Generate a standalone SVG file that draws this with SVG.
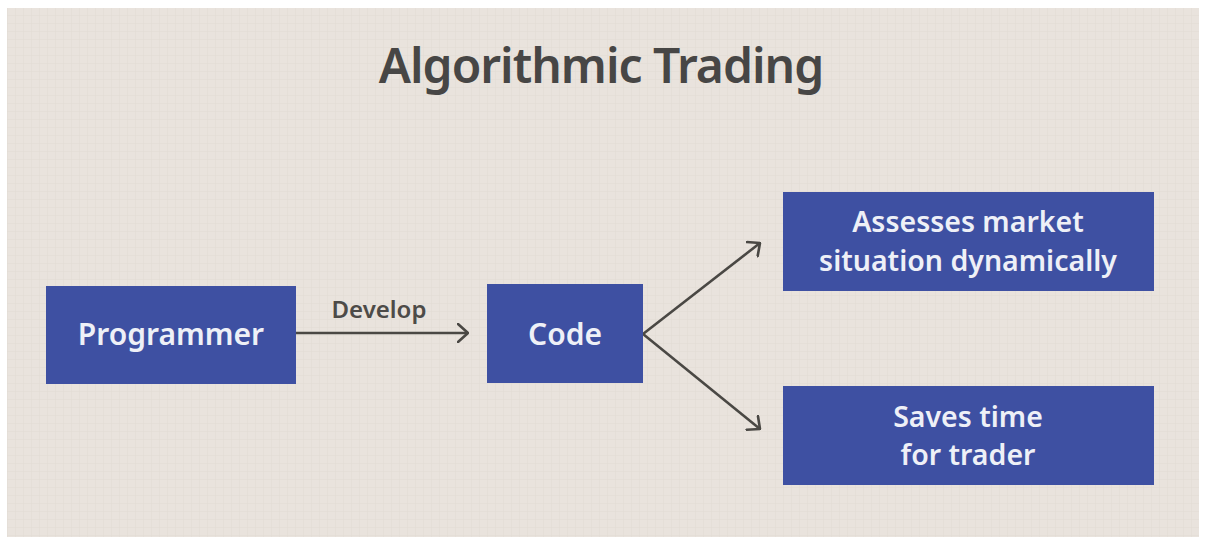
<svg xmlns="http://www.w3.org/2000/svg" width="1206" height="545" viewBox="0 0 1206 545">
  <defs>
    <pattern id="grid" width="8" height="8" patternUnits="userSpaceOnUse">
      <rect width="8" height="8" fill="#e9e3dd"/>
      <path d="M8 0V8M0 8H8" stroke="#e2dbd4" stroke-width="1"/>
    </pattern>
    <marker id="arr" viewBox="0 0 12 20" refX="11" refY="10" markerWidth="12" markerHeight="20" markerUnits="userSpaceOnUse" orient="auto">
      <path d="M1 1L11 10L1 19" fill="none" stroke="#4a4844" stroke-width="2.6" stroke-linecap="round" stroke-linejoin="round"/>
    </marker>
    <style>
      .box { fill: #3e50a2; }
      .lbl { font-family: "Noto Sans", "Open Sans", "Liberation Sans", sans-serif; font-weight: 600; fill: #eef0f7; text-anchor: middle; }
      .conn { stroke: #4a4844; stroke-width: 2.6; fill: none; marker-end: url(#arr); }
      .title { font-family: "Noto Sans", "Open Sans", "Liberation Sans", sans-serif; font-weight: 600; fill: #474645; text-anchor: middle; }
      .elbl { font-family: "Noto Sans", "Open Sans", "Liberation Sans", sans-serif; font-weight: 600; fill: #4d4b48; text-anchor: middle; }
    </style>
  </defs>
  <rect width="1206" height="545" fill="#ffffff"/>
  <rect x="7" y="8" width="1192" height="529" fill="url(#grid)"/>

  <text class="title" x="601" y="83" font-size="48" letter-spacing="-1">Algorithmic Trading</text>

  <g id="connectors">
    <line class="conn" x1="296" y1="333" x2="468" y2="333"/>
    <text class="elbl" x="379" y="318" font-size="24">Develop</text>
    <line class="conn" x1="643" y1="334" x2="760" y2="243"/>
    <line class="conn" x1="643" y1="334" x2="760" y2="429"/>
  </g>

  <g id="programmer">
    <rect class="box" x="46" y="286" width="250" height="98"/>
    <text class="lbl" x="171" y="345" font-size="30">Programmer</text>
  </g>
  <g id="code">
    <rect class="box" x="487" y="284" width="156" height="99"/>
    <text class="lbl" x="565" y="345" font-size="30">Code</text>
  </g>
  <g id="assesses">
    <rect class="box" x="783" y="192" width="371" height="99"/>
    <text class="lbl" x="968" y="232" font-size="28.5">Assesses market</text>
    <text class="lbl" x="968" y="271" font-size="28.5">situation dynamically</text>
  </g>
  <g id="saves">
    <rect class="box" x="783" y="386" width="371" height="99"/>
    <text class="lbl" x="968" y="427" font-size="28.5">Saves time</text>
    <text class="lbl" x="968" y="465" font-size="28.5">for trader</text>
  </g>
</svg>
